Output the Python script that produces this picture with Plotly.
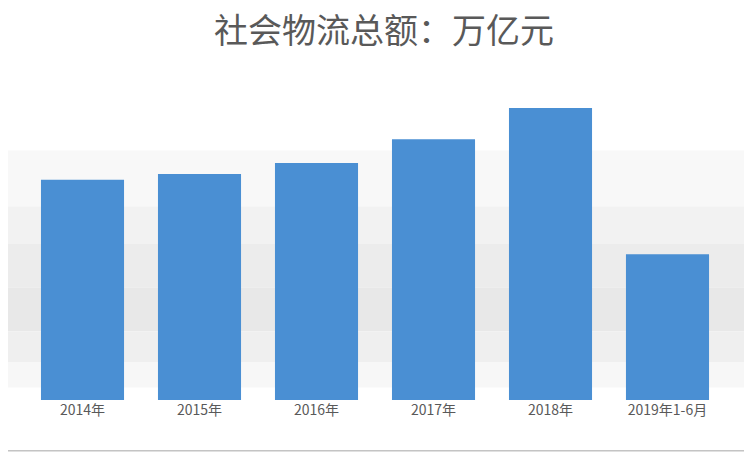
import plotly.graph_objects as go

# 数据
years = ['2014年', '2015年', '2016年', '2017年', '2018年', '2019年1-6月']
totals = [213.5, 219.2, 229.7, 252.8, 283.1, 141.2]

fig = go.Figure()
fig.add_trace(go.Bar(
    x=years, y=totals,
    marker=dict(color='#4a8fd3', line=dict(width=0)),
    hoverinfo='x+y'
))

# 背景的灰色渐变带（近似）
bands = [(0.62, 0.80, '#f8f8f8'), (0.50, 0.62, '#f2f2f2'), (0.36, 0.50, '#ececec'),
         (0.22, 0.36, '#e8e8e8'), (0.12, 0.22, '#efefef'), (0.04, 0.12, '#f7f7f7')]
for y0, y1, c in bands:
    fig.add_shape(type='rect', xref='paper', yref='paper', x0=-0.034, x1=1.036,
                  y0=y0, y1=y1, fillcolor=c, line_width=0, layer='below')

fig.add_shape(type='rect', xref='paper', yref='paper', x0=-0.034, x1=1.036,
              y0=-0.163, y1=1.28, line=dict(color='#a6a6a6', width=1))

fig.update_layout(
    width=752, height=452,
    title=dict(text='社会物流总额：万亿元', x=0.5, y=0.95, xanchor='center', yanchor='middle',
               font=dict(size=34, color='#595959', family='Noto Sans CJK SC')),
    margin=dict(l=16, r=34, t=80, b=60),
    paper_bgcolor='white', plot_bgcolor='rgba(0,0,0,0)',
    bargap=0.29,
    showlegend=False,
    xaxis=dict(showline=False, showgrid=False, ticks='',
               tickfont=dict(size=14, color='#595959', family='Noto Sans CJK SC')),
    yaxis=dict(visible=False, range=[0, 302.5]),
)

fig.write_html('out.html')
